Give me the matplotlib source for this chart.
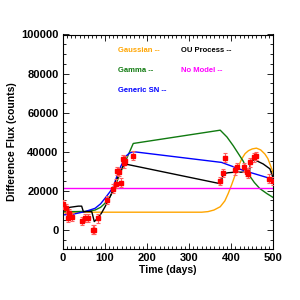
import matplotlib
matplotlib.use("Agg")
import matplotlib.pyplot as plt
from matplotlib.ticker import MultipleLocator

plt.rcParams["font.family"] = ["Liberation Sans", "DejaVu Sans"]
plt.rcParams["font.weight"] = "bold"

# observed light curve (days, counts)
obs_t = [1.5, 9, 13, 16, 21, 45, 53, 61, 71, 75, 84, 104, 119, 126, 130, 134,
         138, 142, 146, 148, 168, 374, 381, 386, 409, 414, 430, 437, 441, 445,
         454, 458, 489, 499]
obs_f = [13000, 11000, 6000, 8400, 6500, 4500, 6000, 6000, 0, 0, 5800, 15200,
         21000, 23600, 30000, 29500, 24100, 36300, 34000, 35400, 38000, 25000,
         29000, 37000, 30400, 32000, 32000, 29500, 28700, 34500, 37100, 37800,
         26200, 25000]
obs_err = 2200

# model curves
gauss_t = [0, 330, 345, 359, 374, 385, 393, 401, 409, 417, 425, 433, 441, 450,
           460, 470, 480, 487, 492, 496, 500]
gauss_f = [9000, 9000, 9300, 10100, 11800, 14800, 18600, 23000, 27800, 32300,
           36300, 39000, 40500, 41400, 41800, 40900, 38800, 36500, 33700, 31300, 28700]

gamma_t = [0, 30, 53, 77, 90, 100, 112, 120, 128, 136, 145, 155, 167.5, 374,
           390, 405, 420, 429, 441, 455, 468, 485, 500]
gamma_f = [9300, 9300, 9400, 10100, 11500, 13500, 16800, 20200, 24300, 28700,
           33200, 38000, 44200, 51000, 47500, 43000, 38000, 35000, 28500, 24200,
           21100, 18500, 16500]

sn_t = [0, 25, 53, 77, 90, 100, 112, 120, 128, 138, 149, 158, 167.5, 377, 429, 500]
sn_f = [7600, 8000, 9300, 11000, 13300, 16000, 19400, 21900, 27000, 32500,
        37500, 39200, 40000, 34500, 30400, 25800]

ou_t = [0, 5.5, 9.5, 13.3, 17, 37, 45, 49, 61, 69, 75, 83, 92, 100.5, 108, 116,
        124, 130, 136, 144, 148, 374, 378, 381, 393, 409, 429, 438.6, 443, 446,
        456, 476, 492, 500]
ou_f = [13500, 13500, 9300, 11000, 11500, 12100, 12100, 9300, 9300, 9300, 4200,
        5900, 8500, 11800, 15000, 18500, 23600, 26500, 29500, 32900, 33700,
        23600, 26000, 28700, 29200, 29500, 29500, 29500, 28300, 35400, 35800,
        33700, 31200, 26200]

no_model = 21400

fig = plt.figure(figsize=(3, 3), dpi=100)
ax = fig.add_axes([0.209, 0.169, 0.702, 0.716])

ax.errorbar(obs_t, obs_f, yerr=obs_err, fmt="s", ms=2.2, color="red",
            ecolor="#ff6060", elinewidth=0.8, capsize=1.5, capthick=0.8, zorder=3)
ax.plot(gauss_t, gauss_f, color="orange", lw=1.0)
ax.plot(gamma_t, gamma_f, color="#107a10", lw=1.0)
ax.plot(sn_t, sn_f, color="blue", lw=1.0)
ax.plot(ou_t, ou_f, color="black", lw=1.0)
ax.axhline(no_model, color="magenta", lw=1.0)

ax.set_xlim(0, 500)
ax.set_ylim(-10000, 100000)
ax.xaxis.set_major_locator(MultipleLocator(100))
ax.xaxis.set_minor_locator(MultipleLocator(10))
ax.yaxis.set_major_locator(MultipleLocator(20000))
ax.yaxis.set_minor_locator(MultipleLocator(5000))
ax.tick_params(which="both", direction="in", top=True, right=True,
               labelsize=8, width=0.6, pad=3)
ax.tick_params(which="major", length=4)
ax.tick_params(which="minor", length=2)
for s in ax.spines.values():
    s.set_linewidth(0.8)

ax.set_xlabel("Time (days)", fontsize=7.5, fontweight="bold", labelpad=1)
ax.set_ylabel("Difference Flux (counts)", fontsize=7.5, fontweight="bold", labelpad=3)

labels = [("Gaussian --", "orange", 0.264, 0.925),
          ("OU Process --", "black", 0.562, 0.925),
          ("Gamma --", "#107a10", 0.264, 0.834),
          ("No Model --", "magenta", 0.562, 0.834),
          ("Generic SN --", "blue", 0.264, 0.741)]
for txt, col, x, y in labels:
    ax.text(x, y, txt, color=col, fontsize=5.5, fontweight="bold",
            transform=ax.transAxes, va="center", ha="left")

fig.savefig("out.png", dpi=100)
